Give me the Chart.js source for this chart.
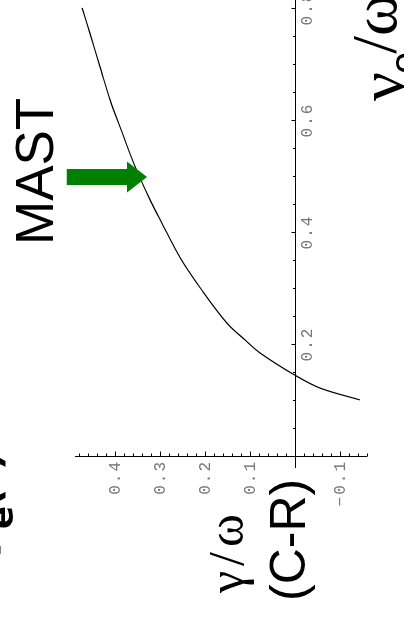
<!DOCTYPE html>
<html>
<head>
<meta charset="utf-8">
<script src="https://cdn.jsdelivr.net/npm/chart.js@4/dist/chart.umd.min.js"></script>
<style>
  html, body { margin: 0; padding: 0; background: #fff; overflow: hidden; width: 404px; height: 625px; }
  /* the plot is laid out landscape and turned a quarter turn counter-clockwise */
  #wrap { position: absolute; left: 0; top: 0; width: 625px; height: 404px;
          transform-origin: 0 0; transform: translate(0, 625px) rotate(-90deg); }
</style>
</head>
<body>
<div id="wrap"><canvas id="c" width="625" height="404"></canvas></div>
<script>
// growth rate vs collision frequency (C-R branch)
const nuValues    = [0.102, 0.123, 0.146, 0.186, 0.209, 0.239, 0.298, 0.357, 0.418, 0.459, 0.518, 0.579, 0.6375, 0.696, 0.757, 0.802];
const gammaValues = [-0.144, -0.056, 0.0, 0.078, 0.111, 0.151, 0.207, 0.256, 0.296, 0.322, 0.355, 0.384, 0.411, 0.433, 0.456, 0.473];

const nuTickValues = [0.2, 0.4, 0.6, 0.8];
const nuTickLabels = ['0.2', '0.4', '0.6', '0.8'];
const gammaTickValues = [0.4, 0.3, 0.2, 0.1, -0.1];
const gammaTickLabels = ['0.4', '0.3', '0.2', '0.1', '\u22120.1'];

// MAST operating point marker
const arrowTail = { nu: 0.5, gamma: 0.507 };
const arrowTip  = { nu: 0.5, gamma: 0.329 };

const points = nuValues.map((v, i) => ({ x: v, y: gammaValues[i] }));

function spacedText(ctx, text, x, y, spacing) {
  // draws text with extra tracking; x is the anchor given by ctx.textAlign
  const widths = [...text].map(ch => ctx.measureText(ch).width);
  const total = widths.reduce((a, b) => a + b, 0) + spacing * (text.length - 1);
  const align = ctx.textAlign;
  let start = x;
  if (align === 'center') start = x - total / 2;
  else if (align === 'right') start = x - total;
  ctx.save();
  ctx.textAlign = 'left';
  let cur = start;
  [...text].forEach((ch, i) => { ctx.fillText(ch, cur, y); cur += widths[i] + spacing; });
  ctx.restore();
}

const axesPlugin = {
  id: 'crossedAxes',
  afterDatasetsDraw(chart) {
    const ctx = chart.ctx;
    const xs = chart.scales.x, ys = chart.scales.y;
    const u0 = xs.getPixelForValue(0), v0 = ys.getPixelForValue(0);
    ctx.save();
    ctx.strokeStyle = '#000';
    ctx.lineWidth = 1;

    // nu axis (along gamma = 0)
    ctx.beginPath();
    ctx.moveTo(xs.getPixelForValue(-0.0196), v0 + 0.5);
    ctx.lineTo(xs.getPixelForValue(0.82), v0 + 0.5);
    ctx.stroke();
    for (let k = 1; k <= 16; k++) {
      const u = Math.round(xs.getPixelForValue(k * 0.05)) + 0.5;
      const len = (k % 4 === 0) ? 4 : 2.5;
      ctx.beginPath();
      ctx.moveTo(u, v0 + 0.5);
      ctx.lineTo(u, v0 + 0.5 - len);
      ctx.stroke();
    }

    // gamma axis (along nu = 0)
    ctx.beginPath();
    ctx.moveTo(u0 + 0.5, ys.getPixelForValue(0.489));
    ctx.lineTo(u0 + 0.5, ys.getPixelForValue(-0.16));
    ctx.stroke();
    for (let k = -8; k <= 24; k++) {
      if (k === 0) continue;
      const v = Math.round(ys.getPixelForValue(k * 0.02)) + 0.5;
      const len = (k % 5 === 0) ? 5 : 3;
      ctx.beginPath();
      ctx.moveTo(u0 + 0.5, v);
      ctx.lineTo(u0 + 0.5 + len, v);
      ctx.stroke();
    }

    // tick labels
    ctx.fillStyle = '#777';
    ctx.font = '16px "Liberation Mono", monospace';
    ctx.textAlign = 'center';
    ctx.textBaseline = 'middle';
    nuTickValues.forEach((val, i) => {
      spacedText(ctx, nuTickLabels[i], xs.getPixelForValue(val), v0 + 13, 2);
    });
    ctx.textAlign = 'right';
    gammaTickValues.forEach((val, i) => {
      spacedText(ctx, gammaTickLabels[i], u0 - 5, ys.getPixelForValue(val) + 1, 2);
    });

    // green arrow
    const tu = xs.getPixelForValue(arrowTail.nu), tv = ys.getPixelForValue(arrowTail.gamma);
    const hv = ys.getPixelForValue(arrowTip.gamma);
    const headLen = 20, shaftHalf = 8, headHalf = 15.5;
    ctx.fillStyle = '#008000';
    ctx.beginPath();
    ctx.moveTo(tu - shaftHalf, tv);
    ctx.lineTo(tu - shaftHalf, hv - headLen);
    ctx.lineTo(tu - headHalf, hv - headLen);
    ctx.lineTo(tu, hv);
    ctx.lineTo(tu + headHalf, hv - headLen);
    ctx.lineTo(tu + shaftHalf, hv - headLen);
    ctx.lineTo(tu + shaftHalf, tv);
    ctx.closePath();
    ctx.fill();

    // annotations and axis titles
    ctx.fillStyle = '#000';
    ctx.textAlign = 'left';
    ctx.textBaseline = 'alphabetic';
    ctx.font = '53px "Liberation Sans", Arial, sans-serif';
    ctx.fillText('MAST', 380, 53);

    ctx.font = '50px "Liberation Sans", Arial, sans-serif';
    ctx.fillText('(C-R)', 24, 305);

    ctx.font = '50px "Liberation Serif", serif';
    spacedText(ctx, '\u03b3/\u03c9', 32, 243, 5);

    // nu_e / omega
    ctx.font = '64px "Liberation Serif", serif';
    ctx.fillText('\u03bd', 524, 403);
    let w = ctx.measureText('\u03bd').width;
    ctx.font = '40px "Liberation Sans", sans-serif';
    ctx.fillText('e', 524 + w - 2, 418);
    let w2 = ctx.measureText('e').width;
    ctx.font = '64px "Liberation Serif", serif';
    ctx.fillText('/\u03c9', 524 + w + w2 - 4, 396);

    // partially visible label at the edge
    ctx.font = 'bold 40px "DejaVu Sans", sans-serif';
    ctx.fillText('\u03bd', 62, 0);
    ctx.font = 'bold 34px "DejaVu Sans", sans-serif';
    ctx.fillText('e', 96, 13);
    ctx.font = 'bold 40px "DejaVu Sans", sans-serif';
    ctx.fillText('(', 118, 0);
    ctx.fillText(')', 155, 0);
    ctx.restore();
  }
};

new Chart(document.getElementById('c'), {
  type: 'scatter',
  data: {
    datasets: [{
      data: points,
      showLine: true,
      borderColor: '#000',
      borderWidth: 1.2,
      pointRadius: 0,
      tension: 0.35,
      fill: false
    }]
  },
  options: {
    responsive: false,
    animation: false,
    devicePixelRatio: 1,
    layout: { padding: 0 },
    plugins: { legend: { display: false }, tooltip: { enabled: false } },
    scales: {
      x: { type: 'linear', min: -0.3, max: 0.8161, display: false },
      y: { type: 'linear', min: -0.2422, max: 0.6556, display: false }
    }
  },
  plugins: [axesPlugin]
});
</script>
</body>
</html>
